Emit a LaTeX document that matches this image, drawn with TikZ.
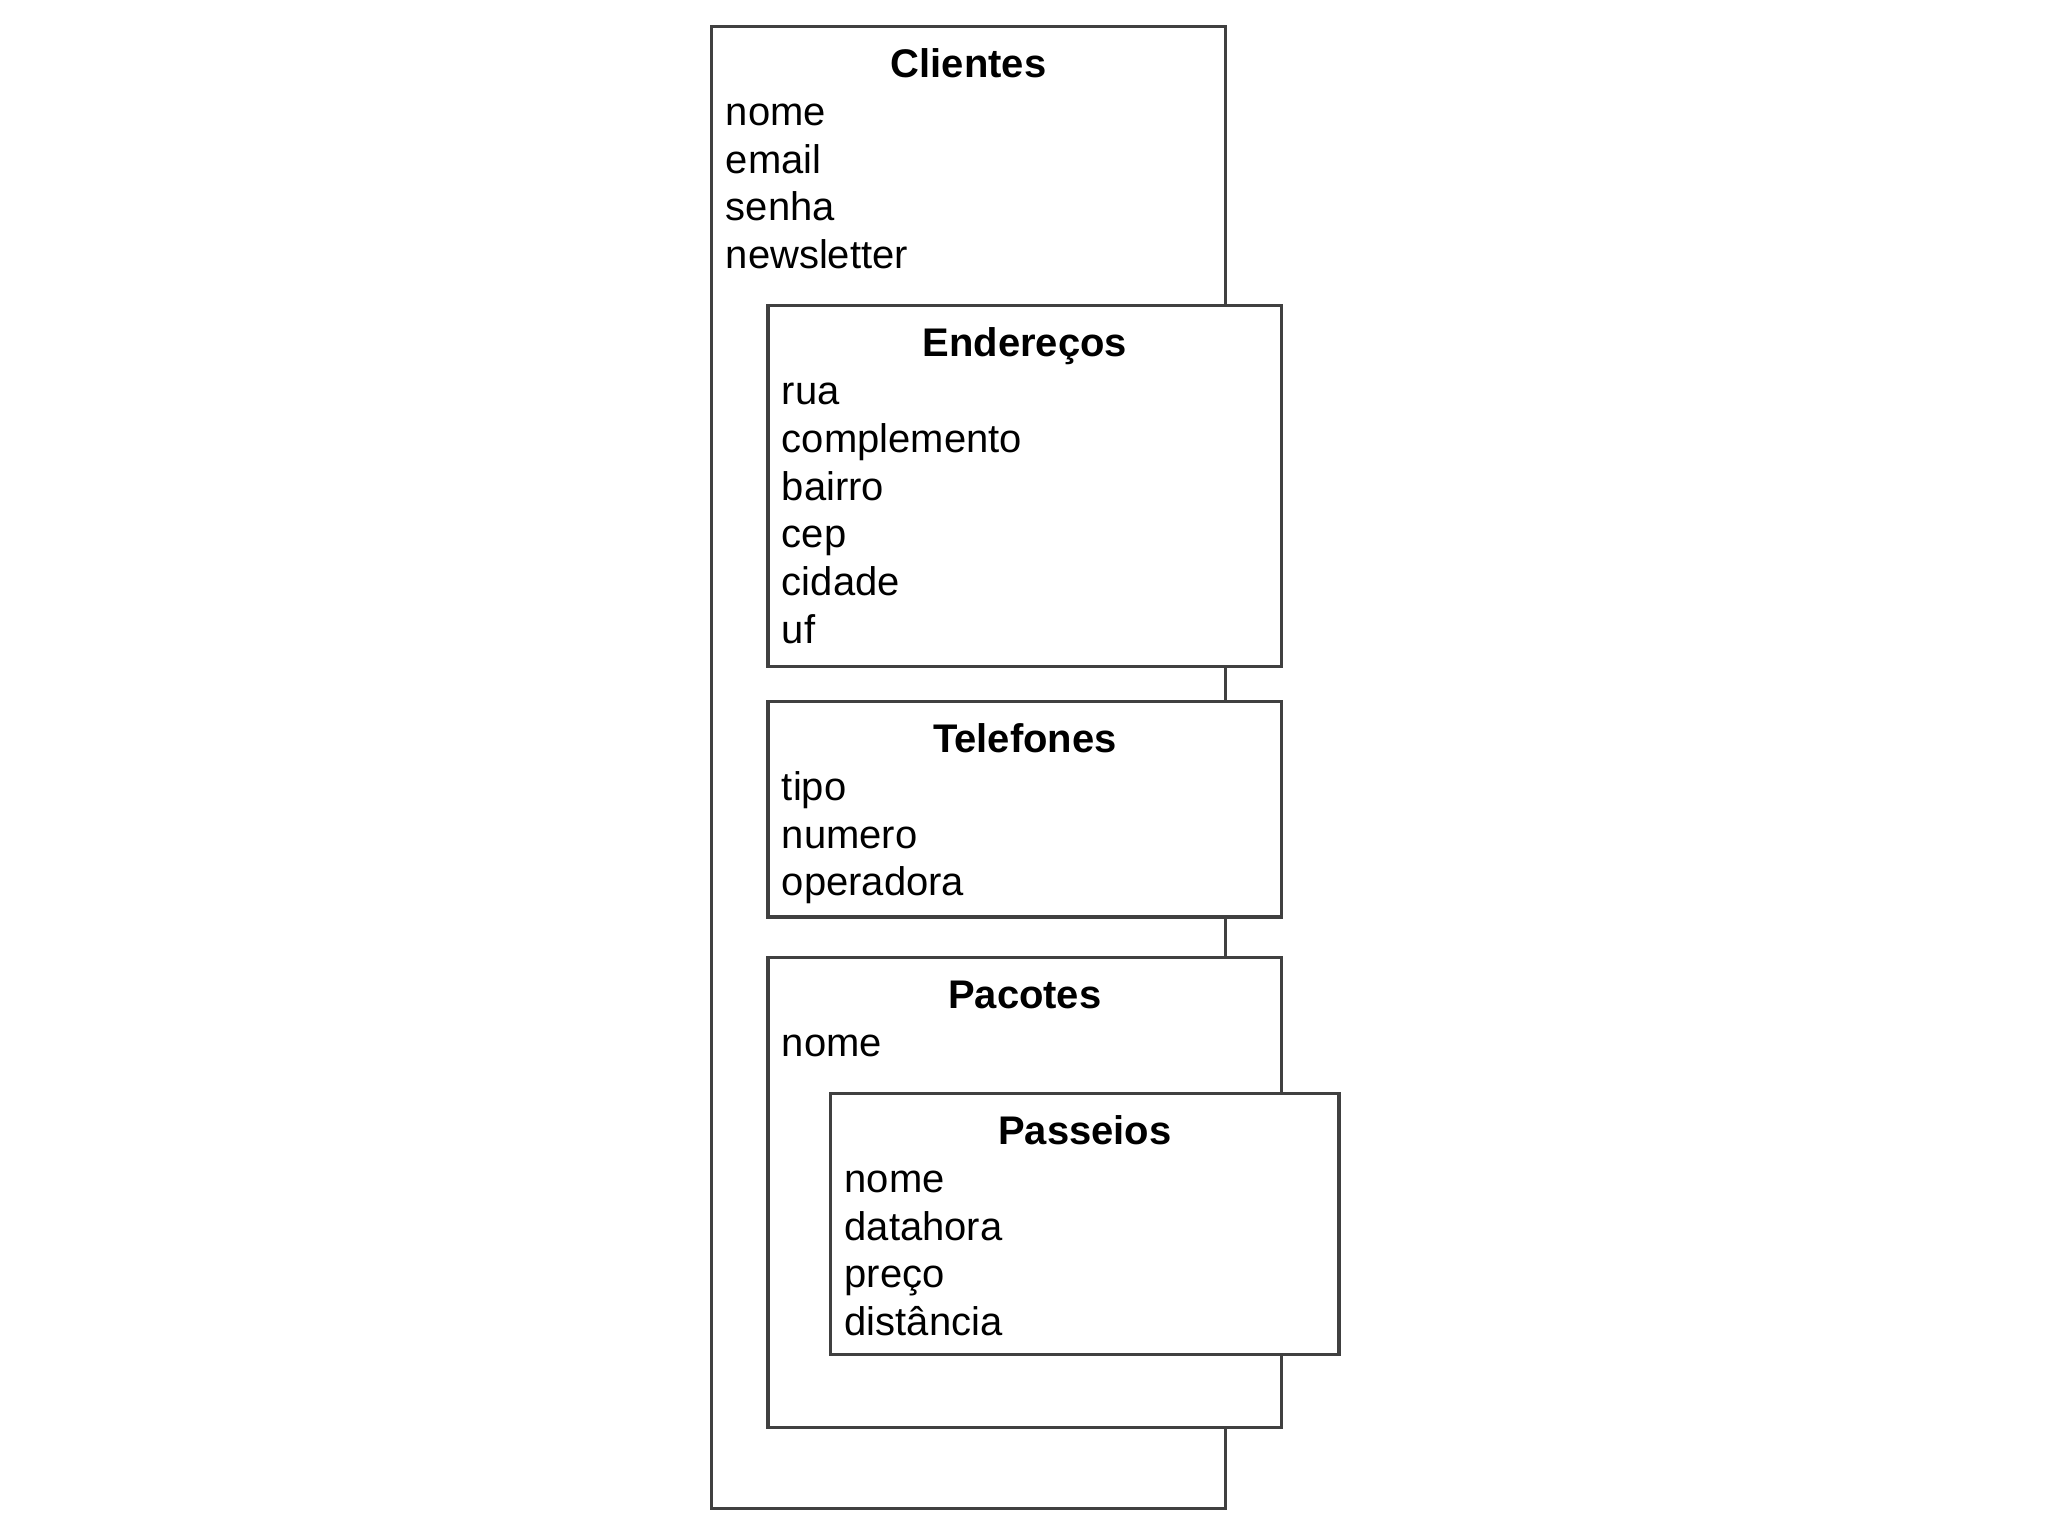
\documentclass[tikz,border=0pt]{standalone}
\usepackage{fontspec}
\setmainfont{Liberation Sans}
\usetikzlibrary{positioning,calc}

\begin{document}
\begin{tikzpicture}[x=0.01cm, y=-0.01cm,
        every node/.style={font=\fontsize{8.7}{10.4}\selectfont},
        tabela/.style={draw=black!75, line width=0.7pt, fill=white, anchor=north west, inner sep=0pt, outer sep=0pt, minimum width=3.93cm},
        titulo/.style={font=\fontsize{8.7}{10.4}\selectfont\bfseries, anchor=base, inner sep=0pt},
        campo/.style={anchor=base west, inner sep=0pt}]
        \useasboundingbox (0,0) rectangle (1568,1176);
        % Clientes
        \node[tabela, minimum height=11.34cm] (cli) at (545,20) {};
        \node[titulo] (cli-t) at ($(cli.north)+(0,39)$) {Clientes};
        \foreach \c [count=\i] in {nome,email,senha,newsletter}
          \node[campo] (cli-\i) at ($(cli.north west)+(10,{76+36.5*(\i-1)})$) {\c};
        % Enderecos
        \node[tabela, minimum height=2.76cm] (end) at (588,234) {};
        \node[titulo] (end-t) at ($(end.north)+(0,39)$) {Endereços};
        \foreach \c [count=\i] in {rua,complemento,bairro,cep,cidade,uf}
          \node[campo] (end-\i) at ($(end.north west)+(10,{76+36.5*(\i-1)})$) {\c};
        % Telefones
        \node[tabela, minimum height=1.65cm] (tel) at (588,537) {};
        \node[titulo] (tel-t) at ($(tel.north)+(0,39)$) {Telefones};
        \foreach \c [count=\i] in {tipo,numero,operadora}
          \node[campo] (tel-\i) at ($(tel.north west)+(10,{76+36.5*(\i-1)})$) {\c};
        % Pacotes
        \node[tabela, minimum height=3.60cm] (pac) at (588,733) {};
        \node[titulo] (pac-t) at ($(pac.north)+(0,39)$) {Pacotes};
        \node[campo] (pac-1) at ($(pac.north west)+(10,76)$) {nome};
        % Passeios
        \node[tabela, minimum width=3.89cm, minimum height=2.00cm] (pas) at (636,837) {};
        \node[titulo] (pas-t) at ($(pas.north)+(0,39)$) {Passeios};
        \foreach \c [count=\i] in {nome,datahora,preço,distância}
          \node[campo] (pas-\i) at ($(pas.north west)+(10,{76+36.5*(\i-1)})$) {\c};
      \end{tikzpicture}
\end{document}
